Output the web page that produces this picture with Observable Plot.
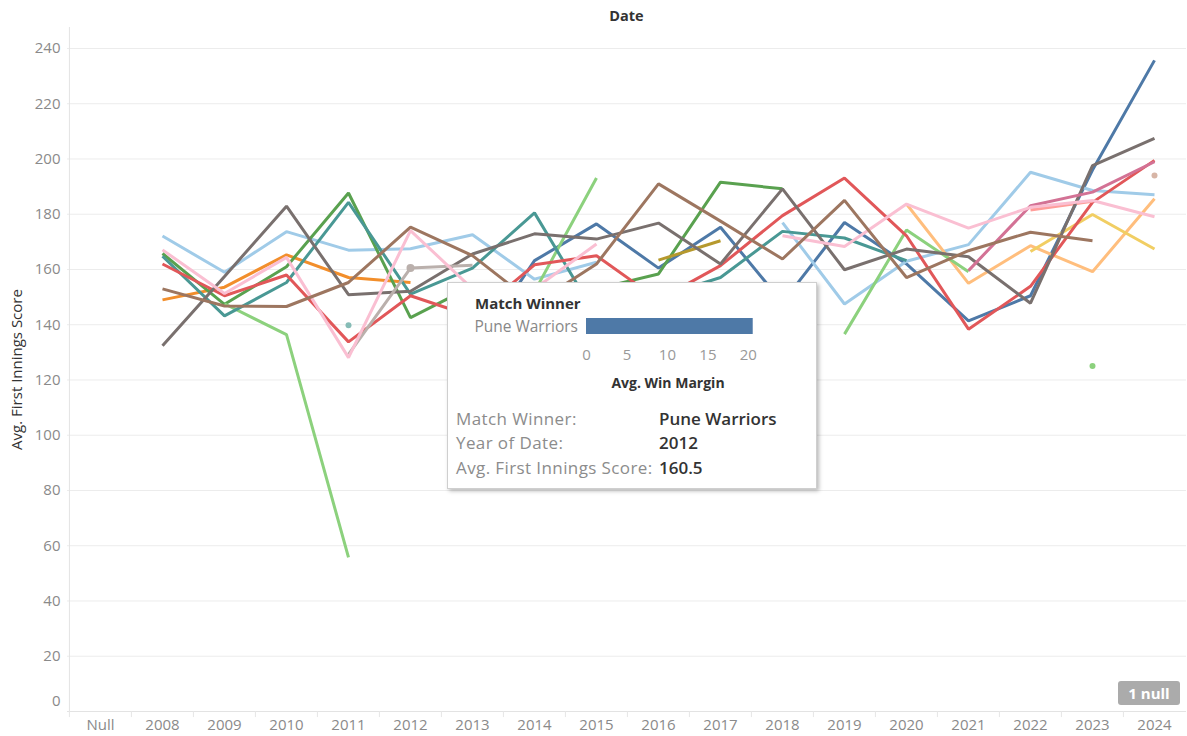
<!DOCTYPE html>
<html><head><meta charset="utf-8">
<script src="https://cdn.jsdelivr.net/npm/d3@7"></script>
<script src="https://cdn.jsdelivr.net/npm/@observablehq/plot@0.6"></script>
<style>
body{margin:0;background:#fff;font-family:"Open Sans",sans-serif;}
#wrap{position:relative;width:1187px;height:736px;overflow:hidden;background:#fff;}
#title{position:absolute;left:67px;top:6px;width:1119px;text-align:center;font-size:14.5px;font-weight:700;color:#333;line-height:20px;}
#chart{position:absolute;left:0;top:27px;}
#badge{position:absolute;left:1118px;top:681px;width:62px;height:24px;border-radius:3px;background:#ababab;color:#fff;font-weight:700;font-size:15px;line-height:24px;text-align:center;}
#tip{position:absolute;left:447px;top:282px;width:368px;height:205px;background:#fff;border:1px solid #cfcfcf;box-shadow:2px 2px 4px rgba(0,0,0,0.28);}
#tip div{position:absolute;white-space:nowrap;line-height:20px;}
.hdr{left:27px;top:10px;font-size:15px;font-weight:700;color:#333;}
.rowlab{left:0;top:33px;width:130px;text-align:right;font-size:15.5px;color:#888;}
.axlab{left:120px;top:90px;width:200px;text-align:center;font-size:14px;font-weight:700;color:#333;}
.k{left:8px;font-size:17px;letter-spacing:0.4px;color:#8c8c8c;}
.v{left:211px;font-size:17px;color:#333;font-weight:600;}
#mini{left:128px;top:28px;}
</style></head><body>
<div id="wrap">
  <div id="title">Date</div>
  <div id="chart"></div>
  <div id="badge">1 null</div>
  <div id="tip">
    <div class="hdr">Match Winner</div>
    <div class="rowlab">Pune Warriors</div>
    <div id="mini"></div>
    <div class="axlab">Avg. Win Margin</div>
    <div class="k" style="top:126px">Match Winner:</div><div class="v" style="top:126px">Pune Warriors</div>
    <div class="k" style="top:150px">Year of Date:</div><div class="v" style="top:150px">2012</div>
    <div class="k" style="top:175px">Avg. First Innings Score:</div><div class="v" style="top:175px">160.5</div>
  </div>
</div>
<script>
// ---- data ----
const years = ["2008","2009","2010","2011","2012","2013","2014","2015","2016","2017","2018","2019","2020","2021","2022","2023","2024"];
const categories = ["Null", ...years];
const yTicks = [0,20,40,60,80,100,120,140,160,180,200,220,240];

const sunrisersHyderabad   = [null,null,null,null,null,130,163.2,176.5,160.5,175.3,148,177,162,141.4,150.5,196,235.7];
const chennaiSuperKings    = [172.1,159,173.7,167,167.5,172.6,156.5,162.6,null,null,177,147.5,163,169,195.2,188.6,187.1];
const deccanChargers       = [149,153.6,165.3,157.1,155.3,null,null,null,null,null,null,null,null,null,null,null,null];
const delhiCapitals        = [null,null,null,null,null,null,null,null,null,null,null,null,183.7,155,168.6,159.2,185.6];
const delhiDaredevils      = [165.8,147.4,161,187.7,142.6,154,151,153,158.4,191.6,189.2,null,null,null,null,null,null];
const risingPune           = [null,147.6,136.4,55.8,null,null,152,193.1,null,null,null,136.6,174.3,159.2,null,125.1,null];
const gujaratLions         = [null,null,null,null,null,null,null,null,163.4,170.4,null,null,null,null,null,null,null];
const gujaratTitans        = [null,null,null,null,null,null,null,null,null,null,null,null,null,null,166.5,179.9,167.4];
const kingsXIPunjab        = [164.8,143.2,155.3,184.3,151.1,160.5,180.5,143,150,157.1,173.8,171.4,163.2,null,null,null,null];
const kochiTuskers         = [null,null,null,139.8,null,null,null,null,null,null,null,null,null,null,null,null,null];
const kolkataKnightRiders  = [162,150.5,158,133.8,150.5,143,161.7,165,149,161.4,179.5,193.1,172.2,138.4,153.9,184.3,199.5];
const lucknowSuperGiants   = [null,null,null,null,null,null,null,null,null,null,null,null,null,null,181.5,184.7,null];
const mumbaiIndians        = [132.4,157.5,182.9,150.9,152.1,165.6,172.9,171,176.8,162,189.2,159.9,167.4,164.6,147.8,197.6,207.5];
const puneWarriors         = [null,null,null,129.3,160.5,161.5,null,null,null,null,null,null,null,null,null,null,null];
const punjabKings          = [null,null,null,null,null,null,null,null,null,null,null,null,null,159.6,183.1,188,199];
const rajasthanRoyals      = [167.1,151.3,164.4,128.1,174.1,153,153,169.2,null,null,172.2,168.3,183.7,175,182.5,185,179.1];
const rcBangalore          = [153,146.8,146.6,155.3,175.3,165,147.5,162,191,177.5,163.8,185,157.1,166.8,173.5,170.4,null];
const rcBengaluru          = [null,null,null,null,null,null,null,null,null,null,null,null,null,null,null,null,194];

const seriesNames = ["Sunrisers Hyderabad","Chennai Super Kings","Deccan Chargers","Delhi Capitals","Delhi Daredevils","Rising Pune Supergiant","Gujarat Lions","Gujarat Titans","Kings XI Punjab","Kochi Tuskers Kerala","Kolkata Knight Riders","Lucknow Super Giants","Mumbai Indians","Pune Warriors","Punjab Kings","Rajasthan Royals","Royal Challengers Bangalore","Royal Challengers Bengaluru"];
const seriesValues = [sunrisersHyderabad,chennaiSuperKings,deccanChargers,delhiCapitals,delhiDaredevils,risingPune,gujaratLions,gujaratTitans,kingsXIPunjab,kochiTuskers,kolkataKnightRiders,lucknowSuperGiants,mumbaiIndians,puneWarriors,punjabKings,rajasthanRoyals,rcBangalore,rcBengaluru];
const seriesColors = ["#4E79A7","#A0CBE8","#F28E2B","#FFBE7D","#59A14F","#8CD17D","#B6992D","#F1CE63","#499894","#86BCB6","#E15759","#FF9D9A","#79706E","#BAB0AC","#D37295","#FABFD2","#9D7660","#D7B5A6"];

// tooltip mini chart data
const tipTeams = ["Pune Warriors"];
const tipWinMargin = [20.6];
const tipTicks = [0,5,10,15,20];
const highlightTeam = "Pune Warriors";
const highlightYear = "2012";

// ---- build tables ----
const rows = [];
const isolated = [];
seriesNames.forEach((name, i) => {
  const vals = seriesValues[i];
  vals.forEach((v, j) => {
    rows.push({team: name, year: years[j], value: v});
    if (v != null && (j === 0 || vals[j-1] == null) && (j === vals.length-1 || vals[j+1] == null))
      isolated.push({team: name, year: years[j], value: v});
  });
});
const highlight = rows.filter(d => d.team === highlightTeam && d.year === highlightYear);

const step = 1119 / categories.length;

const chart = Plot.plot({
  width: 1187, height: 709,
  marginTop: 0, marginBottom: 25, marginLeft: 67, marginRight: 1,
  style: {fontFamily: "'Open Sans', sans-serif", fontSize: "15px", color: "#8a8a8a", background: "transparent"},
  x: {type: "point", domain: categories, padding: 0.5, label: null},
  y: {domain: [0, 247.6], label: null},
  color: {domain: seriesNames, range: seriesColors},
  marks: [
    Plot.gridY(yTicks, {stroke: "#ececec", strokeOpacity: 1}),
    Plot.ruleY([0], {stroke: "#e3e3e3"}),
    Plot.ruleX(["Null"], {dx: -step/2, stroke: "#e3e3e3"}),
    Plot.ruleX(categories, {x: d => d, dx: -step/2, y1: 0, y2: -2.2, stroke: "#e6e6e6"}),
    Plot.axisY(yTicks.filter(d => d > 0), {tickSize: 0, tickPadding: 7, fill: "#8a8a8a", label: null}),
    Plot.axisY([0], {tickSize: 0, tickPadding: 7, dy: -10, fill: "#8a8a8a", label: null}),
    Plot.axisX(categories, {tickSize: 0, tickPadding: 8, fill: "#8a8a8a", label: null}),
    Plot.text(["Avg. First Innings Score"], {frameAnchor: "left", dx: -50, rotate: -90, text: d => d, fill: "#333", fontSize: 15, textAnchor: "middle"}),
    Plot.line(rows, {x: "year", y: "value", z: "team", stroke: "team", strokeWidth: 3, strokeLinejoin: "miter", strokeLinecap: "butt"}),
    Plot.dot(isolated, {x: "year", y: "value", fill: "team", r: 3}),
    Plot.dot(highlight, {x: "year", y: "value", fill: "team", r: 4})
  ]
});
document.getElementById("chart").appendChild(chart);

const mini = Plot.plot({
  width: 190, height: 80,
  marginTop: 7, marginBottom: 57, marginLeft: 10, marginRight: 6,
  style: {fontFamily: "'Open Sans', sans-serif", fontSize: "15px", color: "#999", background: "transparent"},
  x: {domain: [0, 21.5], label: null},
  y: {domain: tipTeams, padding: 0, axis: null},
  marks: [
    Plot.ruleX([21.5], {stroke: "#e8e8e8", y1: null}),
    Plot.barX(tipTeams.map((t, i) => ({team: t, margin: tipWinMargin[i]})), {x: "margin", y: "team", fill: "#4E79A7"}),
    Plot.axisX(tipTicks, {tickSize: 0, tickPadding: 15, fill: "#999", label: null})
  ]
});
document.getElementById("mini").appendChild(mini);
</script>
</body></html>
